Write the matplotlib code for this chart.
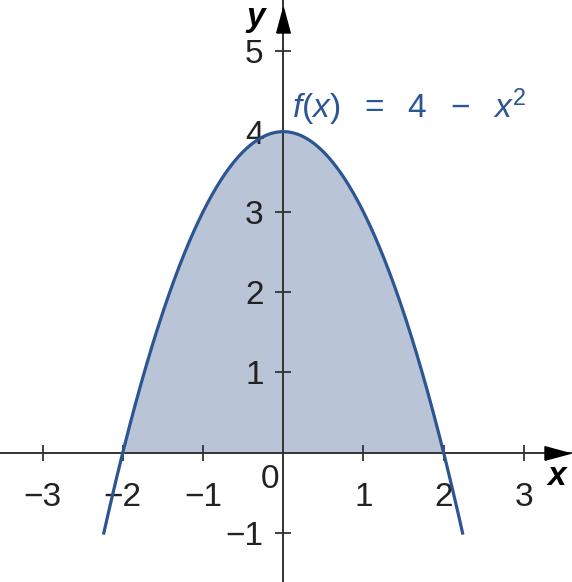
import numpy as np
import matplotlib
matplotlib.use("Agg")
import matplotlib.pyplot as plt

plt.rcParams['font.family'] = ['Liberation Sans', 'DejaVu Sans']
plt.rcParams['mathtext.fontset'] = 'custom'
plt.rcParams['mathtext.rm'] = 'Liberation Sans'
plt.rcParams['mathtext.it'] = 'Liberation Sans:italic'

# data
x_ticks = [-3, -2, -1, 1, 2, 3]
x_labels = ["\u22123", "\u22122", "\u22121", "1", "2", "3"]
y_ticks = [-1, 1, 2, 3, 4, 5]
y_labels = ["\u22121", "1", "2", "3", "4", "5"]
curve_x = np.linspace(-np.sqrt(5), np.sqrt(5), 400)
curve_y = 4 - curve_x ** 2
fill_x = np.linspace(-2, 2, 300)
fill_y = 4 - fill_x ** 2

line_col = "#2b5593"
fill_col = "#b9c5d7"
axis_col = "#333333"

fig = plt.figure(figsize=(5.72, 5.82), dpi=100)
ax = fig.add_axes([0, 0, 1, 1])
ax.set_xlim(-3.53, 3.60)
ax.set_ylim(-1.61, 5.64)

ax.fill_between(fill_x, fill_y, 0, color=fill_col, lw=0, zorder=1)
ax.plot(curve_x, curve_y, color=line_col, lw=2.3, zorder=3)

for s in ["top", "right"]:
    ax.spines[s].set_visible(False)
for s in ["left", "bottom"]:
    ax.spines[s].set_position(("data", 0))
    ax.spines[s].set_color(axis_col)
    ax.spines[s].set_linewidth(1.4)
    ax.spines[s].set_zorder(2)

ax.set_xticks(x_ticks, x_labels)
ax.set_yticks(y_ticks, y_labels)
ax.tick_params(direction="inout", length=12, width=1.3, color=axis_col,
               labelsize=24, labelcolor="#222222")
ax.tick_params(axis="x", pad=15)
ax.tick_params(axis="y", pad=8)

# arrow heads (slim triangles)
up = [(-0.27, -0.5), (0.27, -0.5), (0, 0.5), (-0.27, -0.5)]
right = [(-0.5, -0.27), (-0.5, 0.27), (0.5, 0), (-0.5, -0.27)]
ax.plot(0, 5.39, marker=up, ms=18, color="black", clip_on=False, zorder=4)
ax.plot(3.41, 0, marker=right, ms=18, color="black", clip_on=False, zorder=4)

ax.text(-0.16, -0.33, "0", fontsize=24, color="#222222", ha="center", va="center")
ax.text(3.41, -0.29, "x", fontsize=24, fontweight="bold", style="italic",
        ha="center", va="center")
ax.text(-0.34, 5.42, "y", fontsize=24, fontweight="bold", style="italic",
        ha="center", va="center")
ax.text(0.11, 4.17, r"$f(x)\ \ =\ \ 4\ \ -\ \ x^2$", fontsize=24, color=line_col,
        ha="left", va="baseline")

fig.savefig("out.png", dpi=100)
